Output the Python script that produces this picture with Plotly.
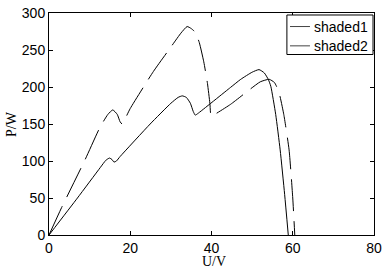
import plotly.graph_objects as go

# shaded1 (solid)
u1 = [0, 7, 12.6, 14.0, 14.9, 15.5, 16.0, 16.6, 17.5, 24.9, 30.0, 31.8, 32.8, 33.8, 34.8, 35.5, 36.0, 36.6,
      44.7, 47.2, 50.0, 51.7, 53.0, 54.0, 54.6, 55.8, 56.9, 58.0, 58.9]
p1 = [0, 50, 91, 101, 104, 102, 98.5, 100, 106, 150, 178, 186, 188, 186, 178, 167, 162, 164,
      199.5, 210.4, 220, 223.5, 219, 210, 201, 163, 115, 55, 0]

# shaded2 (dashed)
u2 = [0, 3.1, 8.9, 12.5, 14.5, 15.7, 16.8, 17.5, 18.0, 19.0, 20.0, 25.7, 30.0, 32.5, 34.0, 35.0, 36.0, 37.0,
      38.1, 39.0, 39.6, 39.9, 40.5, 44.7, 49.6, 52.0, 54.2, 55.5, 56.6, 57.8, 59.1, 60.0, 60.5]
p2 = [0, 37, 102, 145, 163, 169, 163, 153, 150, 160, 171, 221, 254, 273, 281.7, 279, 274, 260,
      234, 205, 178, 160.5, 162, 176.6, 197.4, 207, 210.4, 206, 193, 162.7, 115, 50, 0]

x_ticks = [0, 20, 40, 60, 80]
y_ticks = [0, 50, 100, 150, 200, 250, 300]
names = ["shaded1", "shaded2"]

fig = go.Figure()
fig.add_trace(go.Scatter(x=u1, y=p1, mode="lines", name=names[0], showlegend=False,
                         line=dict(color="black", width=1, shape="spline", smoothing=0.5)))
fig.add_trace(go.Scatter(x=u2, y=p2, mode="lines", name=names[1], showlegend=False,
                         line=dict(color="black", width=1, dash="32px,10px", shape="spline", smoothing=0.5)))

axis_common = dict(showgrid=False, zeroline=False, showline=True, linecolor="black", linewidth=1,
                   mirror="allticks", ticks="inside", ticklen=4, tickcolor="black",
                   ticklabeloverflow="allow",
                   tickfont=dict(family="Liberation Sans, Arial", size=14, color="black"))

# custom legend box (paper coordinates)
shapes = [dict(type="rect", xref="paper", yref="paper", x0=0.732, x1=0.997, y0=0.813, y1=0.991,
               line=dict(color="black", width=1), fillcolor="white", layer="above")]
annotations = []
leg_y = [0.939, 0.852]
for n, yy in zip(names, leg_y):
    shapes.append(dict(type="line", xref="paper", yref="paper", x0=0.7415, x1=0.803, y0=yy, y1=yy,
                       line=dict(color="#444444", width=1), layer="above"))
    annotations.append(dict(text=n, x=0.809, y=yy, xref="paper", yref="paper", xanchor="left",
                            yanchor="middle", showarrow=False,
                            font=dict(family="Liberation Sans, Arial", size=14, color="black")))

annotations += [
    dict(text="U/V", x=0.508, y=-0.117, xref="paper", yref="paper", xanchor="center", yanchor="middle",
         height=14, showarrow=False,
         font=dict(family="Liberation Serif, Times New Roman", size=14, color="black")),
    dict(text="P/W", x=-0.117, y=0.5, xref="paper", yref="paper", xanchor="center", yanchor="middle",
         textangle=-90, showarrow=False,
         font=dict(family="Liberation Serif, Times New Roman", size=14, color="black")),
]

fig.update_layout(
    width=390, height=270,
    margin=dict(l=49, r=16, t=5, b=35),
    paper_bgcolor="white", plot_bgcolor="white",
    xaxis=dict(range=[0, 80], tickvals=x_ticks, **axis_common),
    yaxis=dict(range=[0, 300], tickvals=y_ticks, **axis_common),
    showlegend=False,
    shapes=shapes,
    annotations=annotations,
)

fig.write_html("out.html")
